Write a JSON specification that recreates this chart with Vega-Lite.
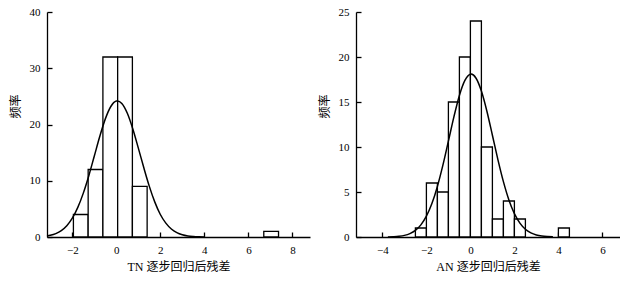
{
  "$schema": "https://vega.github.io/schema/vega-lite/v6.json",
  "padding": {"left": 9, "top": 6, "right": 0, "bottom": 0},
  "background": "white",
  "spacing": 8,
  "datasets": {
    "tnBars": [
      {"start": -1.95, "end": -1.28, "count": 4},
      {"start": -1.28, "end": -0.61, "count": 12},
      {"start": -0.61, "end": 0.06, "count": 32},
      {"start": 0.06, "end": 0.73, "count": 32},
      {"start": 0.73, "end": 1.4, "count": 9},
      {"start": 6.7, "end": 7.37, "count": 1}
    ],
    "tnCurve": [
      {"x": -3.15, "y": 0.19}, {"x": -3.0, "y": 0.3}, {"x": -2.75, "y": 0.6}, {"x": -2.5, "y": 1.13},
      {"x": -2.25, "y": 2.0}, {"x": -2.0, "y": 3.34}, {"x": -1.75, "y": 5.26}, {"x": -1.5, "y": 7.8},
      {"x": -1.25, "y": 10.9}, {"x": -1.0, "y": 14.4}, {"x": -0.75, "y": 17.9}, {"x": -0.5, "y": 21.0},
      {"x": -0.25, "y": 23.2}, {"x": 0.0, "y": 24.17}, {"x": 0.05, "y": 24.2}, {"x": 0.25, "y": 23.75},
      {"x": 0.5, "y": 22.0}, {"x": 0.75, "y": 19.2}, {"x": 1.0, "y": 15.8}, {"x": 1.25, "y": 12.3},
      {"x": 1.5, "y": 9.0}, {"x": 1.75, "y": 6.2}, {"x": 2.0, "y": 4.0}, {"x": 2.25, "y": 2.47},
      {"x": 2.5, "y": 1.43}, {"x": 2.75, "y": 0.78}, {"x": 3.0, "y": 0.4}, {"x": 3.25, "y": 0.19},
      {"x": 3.5, "y": 0.09}, {"x": 3.75, "y": 0.04}, {"x": 4.0, "y": 0.015}
    ],
    "anBars": [
      {"start": -2.5, "end": -2.0, "count": 1},
      {"start": -2.0, "end": -1.5, "count": 6},
      {"start": -1.5, "end": -1.0, "count": 5},
      {"start": -1.0, "end": -0.5, "count": 15},
      {"start": -0.5, "end": 0.0, "count": 20},
      {"start": 0.0, "end": 0.5, "count": 24},
      {"start": 0.5, "end": 1.0, "count": 10},
      {"start": 1.0, "end": 1.5, "count": 2},
      {"start": 1.5, "end": 2.0, "count": 4},
      {"start": 2.0, "end": 2.5, "count": 2},
      {"start": 4.0, "end": 4.5, "count": 1}
    ],
    "anCurve": [
      {"x": -3.75, "y": 0.01}, {"x": -3.5, "y": 0.036}, {"x": -3.25, "y": 0.083}, {"x": -3.0, "y": 0.18},
      {"x": -2.75, "y": 0.38}, {"x": -2.5, "y": 0.74}, {"x": -2.25, "y": 1.35}, {"x": -2.0, "y": 2.31},
      {"x": -1.75, "y": 3.71}, {"x": -1.5, "y": 5.62}, {"x": -1.25, "y": 7.98}, {"x": -1.0, "y": 10.65},
      {"x": -0.75, "y": 13.35}, {"x": -0.5, "y": 15.73}, {"x": -0.25, "y": 17.4}, {"x": 0.0, "y": 18.09},
      {"x": 0.03, "y": 18.1}, {"x": 0.25, "y": 17.67}, {"x": 0.5, "y": 16.21}, {"x": 0.75, "y": 13.97},
      {"x": 1.0, "y": 11.31}, {"x": 1.25, "y": 8.6}, {"x": 1.5, "y": 6.15}, {"x": 1.75, "y": 4.12},
      {"x": 2.0, "y": 2.6}, {"x": 2.25, "y": 1.54}, {"x": 2.5, "y": 0.86}, {"x": 2.75, "y": 0.45},
      {"x": 3.0, "y": 0.22}, {"x": 3.25, "y": 0.1}, {"x": 3.5, "y": 0.045}, {"x": 3.75, "y": 0.02}
    ]
  },
  "hconcat": [
    {
      "width": 263,
      "height": 225,
      "layer": [
        {
          "data": {"name": "tnBars"},
          "mark": {"type": "bar", "fill": "white", "stroke": "black", "strokeWidth": 1.3},
          "encoding": {
            "x": {"field": "start", "type": "quantitative",
                  "scale": {"domain": [-3.15, 8.8], "nice": false, "zero": false},
                  "axis": {"values": [-2, 0, 2, 4, 6, 8], "title": "TN 逐步回归后残差"}},
            "x2": {"field": "end"},
            "y": {"field": "count", "type": "quantitative",
                  "scale": {"domain": [0, 40], "nice": false},
                  "axis": {"values": [0, 10, 20, 30, 40], "title": "频率", "titleY": 94}},
            "y2": {"datum": 0}
          }
        },
        {
          "data": {"name": "tnCurve"},
          "mark": {"type": "line", "color": "black", "strokeWidth": 1.5, "interpolate": "monotone"},
          "encoding": {
            "x": {"field": "x", "type": "quantitative"},
            "y": {"field": "y", "type": "quantitative"}
          }
        },
        {
          "mark": {"type": "text", "text": "a. TN", "align": "left", "baseline": "middle", "font": "Liberation Serif", "fontSize": 12},
          "encoding": {
            "x": {"datum": -2.25, "type": "quantitative"},
            "y": {"datum": 39.3, "type": "quantitative"}
          }
        }
      ]
    },
    {
      "width": 264,
      "height": 225,
      "layer": [
        {
          "data": {"name": "anBars"},
          "mark": {"type": "bar", "fill": "white", "stroke": "black", "strokeWidth": 1.3},
          "encoding": {
            "x": {"field": "start", "type": "quantitative",
                  "scale": {"domain": [-5.2, 6.8], "nice": false, "zero": false},
                  "axis": {"values": [-4, -2, 0, 2, 4, 6], "title": "AN 逐步回归后残差"}},
            "x2": {"field": "end"},
            "y": {"field": "count", "type": "quantitative",
                  "scale": {"domain": [0, 25], "nice": false},
                  "axis": {"values": [0, 5, 10, 15, 20, 25], "title": "频率", "titleY": 94}},
            "y2": {"datum": 0}
          }
        },
        {
          "data": {"name": "anCurve"},
          "mark": {"type": "line", "color": "black", "strokeWidth": 1.5, "interpolate": "monotone"},
          "encoding": {
            "x": {"field": "x", "type": "quantitative"},
            "y": {"field": "y", "type": "quantitative"}
          }
        },
        {
          "mark": {"type": "text", "text": "b. AN", "align": "left", "baseline": "middle", "font": "Liberation Serif", "fontSize": 12},
          "encoding": {
            "x": {"datum": -4.15, "type": "quantitative"},
            "y": {"datum": 24.7, "type": "quantitative"}
          }
        }
      ]
    }
  ],
  "config": {
    "view": {"stroke": null},
    "axis": {
      "grid": false,
      "domainColor": "black",
      "domainWidth": 1.3,
      "tickColor": "black",
      "tickWidth": 1.3,
      "tickSize": -5,
      "labelPadding": 12,
      "labelColor": "black",
      "labelFont": "Liberation Serif",
      "labelFontSize": 11,
      "titleFont": "Liberation Serif, Noto Sans CJK SC",
      "titleFontSize": 12,
      "titleFontWeight": "normal",
      "titleColor": "black",
      "zindex": 1
    },
    "axisY": {"titlePadding": 7},
    "axisX": {"titlePadding": 6}
  }
}
